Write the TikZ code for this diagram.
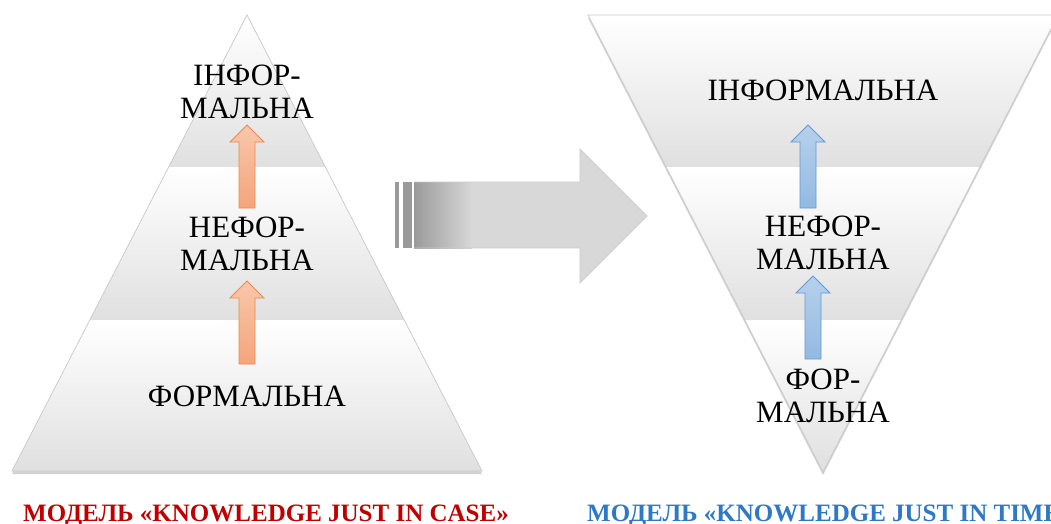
\documentclass[tikz,border=0pt]{standalone}
\usepackage{fontspec}
\setmainfont{Liberation Serif}
\usetikzlibrary{shadows}
\definecolor{bandgray}{HTML}{E0E0E0}
\definecolor{edgegray}{HTML}{C8C8C8}
\definecolor{orTop}{HTML}{F9C7AB}
\definecolor{orBot}{HTML}{F4A57C}
\definecolor{orEdge}{HTML}{EE8A52}
\definecolor{blTop}{HTML}{B7D1EC}
\definecolor{blBot}{HTML}{93B9E2}
\definecolor{blEdge}{HTML}{5F9BD6}
\definecolor{capred}{HTML}{C00000}
\definecolor{capblue}{HTML}{2E78C4}
\definecolor{arrLight}{HTML}{D8D8D8}
\definecolor{arrDark}{HTML}{9A9A9A}
\tikzset{
  bandshade/.style={top color=white,bottom color=bandgray},
  tri/.style={fill=white,drop shadow={shadow xshift=0pt,shadow yshift=-3pt,opacity=0.35}},
  triedge/.style={draw=edgegray,line width=0.7pt},
  lbl/.style={align=center,font=\fontsize{31}{33}\selectfont,inner sep=0pt},
  captiontext/.style={font=\bfseries\fontsize{25}{28}\selectfont,inner sep=0pt},
  orangeup/.pic={\shade[top color=orTop,bottom color=orBot,draw=orEdge,line width=0.8pt]
     (0,0) -- (17,17) -- (8,17) -- (8,83) -- (-8,83) -- (-8,17) -- (-17,17) -- cycle;},
  blueup/.pic={\shade[top color=blTop,bottom color=blBot,draw=blEdge,line width=0.8pt]
     (0,0) -- (17,17) -- (8,17) -- (8,83) -- (-8,83) -- (-8,17) -- (-17,17) -- cycle;},
}
\begin{document}
\begin{tikzpicture}[x=1pt,y=-1pt]
\useasboundingbox (0,0) rectangle (1051,524);
\clip (0,0) rectangle (1051,524);
\fill[white] (0,0) rectangle (1051,524);

% ---------- left pyramid ----------
\coordinate (LA) at (247,15);
\coordinate (LL) at (12,471);
\coordinate (LR) at (482,471);
\path[tri] (LA) -- (LR) -- (LL) -- cycle;
\begin{scope}
  \clip (LA) -- (LR) -- (LL) -- cycle;
  \shade[bandshade] (0,15) rectangle (520,167);
  \shade[bandshade] (0,167) rectangle (520,320);
  \shade[bandshade] (0,320) rectangle (520,471);
\end{scope}
\draw[triedge] (LA) -- (LR) -- (LL) -- cycle;

\node[lbl] (l1) at (247,92) {ІНФОР-\\МАЛЬНА};
\node[lbl] (l2) at (247,243.5) {НЕФОР-\\МАЛЬНА};
\node[lbl] (l3) at (247,396) {ФОРМАЛЬНА};
\pic (la1) at (247,125) {orangeup};
\pic (la2) at (247,281) {orangeup};

\node[captiontext,text=capred,anchor=base] (lcap) at (266,521) {МОДЕЛЬ «KNOWLEDGE JUST IN CASE»};

% ---------- big arrow ----------
\fill[arrDark] (395,182) rectangle (399,248);
\fill[arrDark] (403,182) rectangle (412,248);
\shade[left color=arrDark,right color=arrLight] (414,182) rectangle (472,248);
\fill[arrLight] (471.5,182) rectangle (581,248);
\fill[arrLight] (580,182) -- (580,149) -- (647,216) -- (580,283) -- (580,248) -- cycle;
\draw[arrLight!85!gray,line width=0.7pt] (414,182) -- (580,182) -- (580,149) -- (647,216)
   -- (580,283) -- (580,248) -- (414,248);

% ---------- right inverted triangle ----------
\coordinate (RA) at (823,472);
\coordinate (RL) at (588,15);
\coordinate (RR) at (1058,15);
\path[tri] (RL) -- (RR) -- (RA) -- cycle;
\begin{scope}
  \clip (RL) -- (RR) -- (RA) -- cycle;
  \shade[bandshade] (560,15) rectangle (1060,167);
  \shade[bandshade] (560,167) rectangle (1060,320);
  \shade[bandshade] (560,320) rectangle (1060,472);
\end{scope}
\draw[triedge] (RL) -- (RR) -- (RA) -- cycle;

\node[lbl] (r1) at (823,90) {ІНФОРМАЛЬНА};
\node[lbl] (r2) at (823,242.5) {НЕФОР-\\МАЛЬНА};
\node[lbl] (r3) at (823,396) {ФОР-\\МАЛЬНА};
\pic (ra1) at (808,125) {blueup};
\pic (ra2) at (813,276) {blueup};

\node[captiontext,text=capblue,anchor=base west] (rcap) at (587,521) {МОДЕЛЬ «KNOWLEDGE JUST IN TIME»};
\end{tikzpicture}
\end{document}
